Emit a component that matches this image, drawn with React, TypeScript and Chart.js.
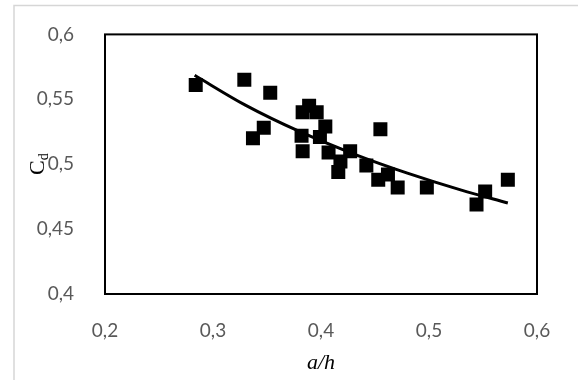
import React, { useEffect, useRef } from "react";
import { Chart, registerables } from "chart.js";

Chart.register(...registerables);

// Measured points (a/h, Cd)
const aOverH = [
  0.284, 0.329, 0.353, 0.347, 0.337, 0.389, 0.383, 0.396, 0.404, 0.382,
  0.399, 0.383, 0.407, 0.427, 0.418, 0.416, 0.442, 0.455, 0.453, 0.462,
  0.471, 0.498, 0.552, 0.544, 0.573,
];
const cdValues = [
  0.561, 0.565, 0.555, 0.528, 0.52, 0.545, 0.54, 0.54, 0.529, 0.522,
  0.521, 0.51, 0.509, 0.51, 0.502, 0.494, 0.499, 0.527, 0.488, 0.492,
  0.482, 0.482, 0.479, 0.469, 0.488,
];

// Trend curve
const trendX = [0.283, 0.33, 0.38, 0.43, 0.48, 0.53, 0.573];
const trendY = [0.5685, 0.5455, 0.5252, 0.508, 0.4931, 0.48, 0.4701];

const xTickLabels = ["0,2", "0,3", "0,4", "0,5", "0,6"];
const yTickLabels = ["0,4", "0,45", "0,5", "0,55", "0,6"];

const xTitle = "a/h";
const yTitleMain = "C";
const yTitleSub = "d";

export default function App() {
  const ref = useRef<HTMLCanvasElement | null>(null);

  useEffect(() => {
    if (!ref.current) return;

    const decor = {
      id: "decor",
      beforeDraw(chart: any) {
        const ctx = chart.ctx;
        ctx.save();
        ctx.strokeStyle = "#d6d6d6";
        ctx.lineWidth = 1.5;
        ctx.beginPath();
        ctx.moveTo(14, chart.height);
        ctx.lineTo(14, 5.5);
        ctx.lineTo(chart.width, 5.5);
        ctx.stroke();
        ctx.restore();
      },
      afterDraw(chart: any) {
        const ctx = chart.ctx;
        const a = chart.chartArea;
        ctx.save();
        // frame
        ctx.strokeStyle = "#000";
        ctx.lineWidth = 2;
        ctx.strokeRect(a.left, a.top, a.right - a.left, a.bottom - a.top);
        // x title
        ctx.fillStyle = "#000";
        ctx.font = "italic 22px 'Liberation Serif'";
        ctx.textAlign = "center";
        ctx.textBaseline = "middle";
        ctx.fillText(xTitle, (a.left + a.right) / 2, a.bottom + 69);
        // y title
        ctx.translate(a.left - 68, (a.top + a.bottom) / 2);
        ctx.rotate(-Math.PI / 2);
        ctx.font = "22px 'Liberation Serif'";
        const wC = ctx.measureText(yTitleMain).width;
        ctx.font = "14px 'Liberation Serif'";
        const wd = ctx.measureText(yTitleSub).width;
        const start = -(wC + wd) / 2;
        ctx.textAlign = "left";
        ctx.textBaseline = "alphabetic";
        ctx.font = "22px 'Liberation Serif'";
        ctx.fillText(yTitleMain, start, 7);
        ctx.font = "14px 'Liberation Serif'";
        ctx.fillText(yTitleSub, start + wC, 11);
        ctx.restore();
      },
    };

    const chart = new Chart(ref.current, {
      type: "scatter",
      data: {
        datasets: [
          {
            type: "line",
            data: trendX.map((x, i) => ({ x, y: trendY[i] })),
            borderColor: "#000",
            borderWidth: 3,
            pointRadius: 0,
            cubicInterpolationMode: "monotone",
            fill: false,
          } as any,
          {
            data: aOverH.map((x, i) => ({ x, y: cdValues[i] })),
            pointStyle: "rect",
            pointRadius: 9.9,
            backgroundColor: "#000",
            borderColor: "#000",
            borderWidth: 0,
          },
        ],
      },
      plugins: [decor],
      options: {
        animation: false,
        responsive: false,
        layout: { padding: { top: 34, right: 41, bottom: 0, left: 0 } },
        plugins: {
          legend: { display: false },
          tooltip: { enabled: false },
        },
        scales: {
          x: {
            type: "linear",
            min: 0.2,
            max: 0.6,
            grid: { display: false },
            border: { display: false },
            ticks: {
              stepSize: 0.1,
              padding: 17,
              color: "#595959",
              font: { family: "Lato", size: 19 },
              callback: (_v: any, i: number) => xTickLabels[i],
            },
            afterFit: (s: any) => {
              s.height = 86;
            },
          },
          y: {
            type: "linear",
            min: 0.4,
            max: 0.6,
            grid: { display: false },
            border: { display: false },
            ticks: {
              stepSize: 0.05,
              padding: 23,
              color: "#595959",
              font: { family: "Lato", size: 19 },
              callback: (_v: any, i: number) => yTickLabels[i],
            },
            afterFit: (s: any) => {
              s.width = 105;
            },
          },
        },
      } as any,
    });

    return () => chart.destroy();
  }, []);

  return (
    <div style={{ position: "fixed", left: 0, top: 0, width: 578, height: 380, background: "#fff" }}>
      <canvas ref={ref} width={578} height={380} />
    </div>
  );
}
